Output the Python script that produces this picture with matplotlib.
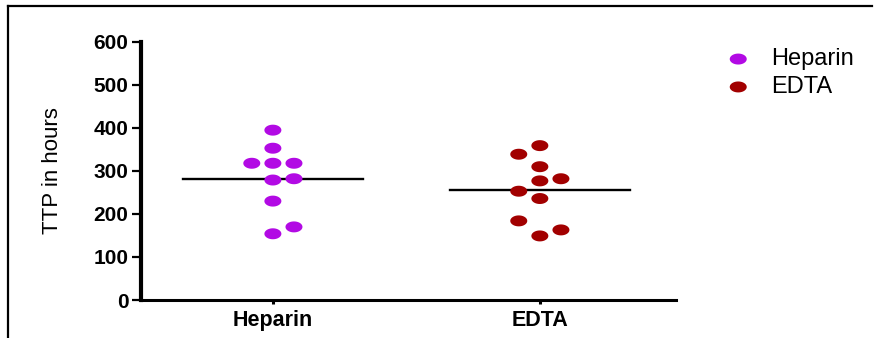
import numpy as np
import matplotlib
matplotlib.use("Agg")
import matplotlib.pyplot as plt
from matplotlib.lines import Line2D

plt.rcParams['font.family'] = ['Liberation Sans', 'DejaVu Sans']

# data
groups = ['Heparin', 'EDTA']
heparin = [395, 353, 318, 318, 318, 279, 282, 230, 170, 154]
edta = [359, 339, 310, 277, 282, 253, 236, 184, 149, 163]
colors = ['#B20AE4', '#A20000']
yticks = [0, 100, 200, 300, 400, 500, 600]

# column slot of each dot in the scatter (layout only)
heparin_cols = [0, 0, -1, 0, 1, 0, 1, 0, 1, 0]
edta_cols = [0, -1, 0, 0, 1, -1, 0, -1, 0, 1]

# flattened ellipse marker (the source image is stretched sideways)
t = np.linspace(0, 2 * np.pi, 41)
dot = np.column_stack([1.55 * np.cos(t), np.sin(t)])

fig = plt.figure(figsize=(8.83, 3.38), dpi=100)
ax = fig.add_axes([141 / 883, 1 - 300 / 338, 535 / 883, 258 / 338])

step = 0.079
for i, (vals, cols, c) in enumerate(zip([heparin, edta], [heparin_cols, edta_cols], colors)):
    x = i + np.array(cols) * step
    ax.scatter(x, vals, marker=dot, s=150, color=c, edgecolors='none', zorder=3,
               label=groups[i])
    m = np.mean(vals)
    ax.plot([i - 0.337, i + 0.337], [m, m], color='black', lw=1.7, zorder=2)

ax.set_xlim(-0.494, 1.51)
ax.set_ylim(0, 600)
ax.set_xticks([0, 1])
ax.set_xticklabels(groups, fontsize=15.5, fontweight='bold')
ax.set_yticks(yticks)
ax.set_yticklabels([str(v) for v in yticks], fontsize=15, fontweight='bold')

for s in ['top', 'right']:
    ax.spines[s].set_visible(False)
ax.spines['left'].set_linewidth(3.0)
ax.spines['bottom'].set_linewidth(2.2)
ax.tick_params(axis='y', direction='out', length=6.5, width=1.6, pad=2.5)
ax.tick_params(axis='x', direction='out', length=3, width=2.2, pad=4)

ax.set_ylabel('TTP in hours', fontsize=16)
ax.yaxis.set_label_coords(-0.145, 0.5)

leg = ax.legend(loc='upper left', bbox_to_anchor=(704 / 883, 1 - 27 / 338),
                bbox_transform=fig.transFigure, frameon=False, fontsize=17,
                handletextpad=0.85, labelspacing=0.25, handlelength=1.1)

# leftover frame of the original figure
fig.add_artist(Line2D([8 / 883, 8 / 883], [0, 1 - 6 / 338], color='black', lw=1.6))
fig.add_artist(Line2D([8 / 883, 872 / 883], [1 - 6 / 338, 1 - 6 / 338], color='black', lw=1.6))

fig.savefig('out.png', dpi=100)
